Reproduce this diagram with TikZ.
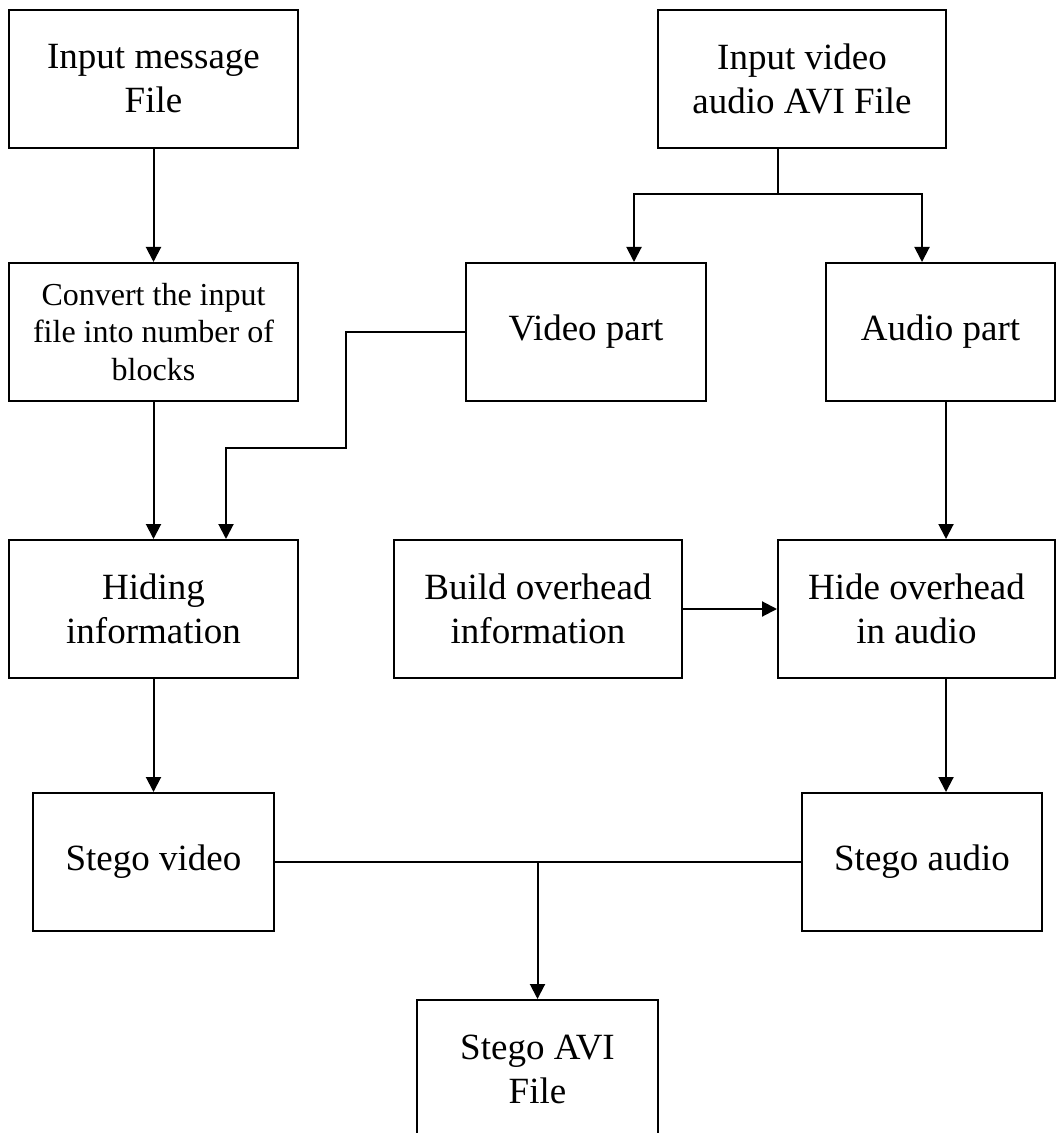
\documentclass[tikz,border=0pt]{standalone}
\usepackage{fontspec}
\setmainfont{Liberation Serif}
\usetikzlibrary{arrows.meta}

\begin{document}
\begin{tikzpicture}[x=0.5pt,y=-0.5pt]


% GLOBAL SETTINGS
\newcommand{\boxfont}{\fontsize{18.5}{22}\selectfont}
\newcommand{\convfont}{\fontsize{16}{18.75}\selectfont}
\tikzset{
  blk/.style={draw, line width=1pt, align=center, inner sep=0pt,
    minimum height=69pt, font=\boxfont},
  arr/.style={-{Triangle[length=7.5pt,width=7.5pt]}, line width=1pt},
  wire/.style={line width=1pt}
}
\useasboundingbox (0,0) rectangle (1057,1133);

% LEFT COLUMN
\node[blk, minimum width=144.5pt] (msg) at (153.5,79) {Input message\\File};
\node[blk, minimum width=144.5pt, font=\convfont] (conv) at (153.5,332) {Convert the input\\file into number of\\blocks};
\node[blk, minimum width=144.5pt] (hiding) at (153.5,609) {Hiding\\information};
\node[blk, minimum width=120.5pt] (svid) at (153.5,862) {Stego video};

% RIGHT SIDE
\node[blk, minimum width=144pt] (avi) at (802,79) {Input video\\audio AVI File};
\node[blk, minimum width=120pt] (vid) at (586,332) {Video part};
\node[blk, minimum width=114.5pt] (aud) at (940.5,332) {Audio part};
\node[blk, minimum width=144pt] (build) at (538,609) {Build overhead\\information};
\node[blk, minimum width=138.5pt] (hide) at (916.5,609) {Hide overhead\\in audio};
\node[blk, minimum width=120pt] (saud) at (922,862) {Stego audio};

% OUTPUT
\node[blk, minimum width=120.5pt] (savi) at (537.5,1069) {Stego AVI\\File};

% helper coordinates
\coordinate (fork) at (778,194);
\coordinate (vidIn) at (634,194);
\coordinate (audIn) at (922,194);
\coordinate (bendA) at (346,448);
\coordinate (bendB) at (226,448);
\coordinate (audOut) at (946,0);

% EDGES
\draw[arr] (msg) -- (conv);
\draw[arr] (conv) -- (hiding);
\draw[arr] (hiding) -- (svid);
%
\draw[wire] (fork |- avi.south) -- (fork);
\draw[arr] (fork) -- (vidIn) -- (vidIn |- vid.north);
\draw[arr] (fork) -- (audIn) -- (audIn |- aud.north);
\draw[arr] (vid.west) -| (bendA) -- (bendB) -- (bendB |- hiding.north);
%
\draw[arr] (audOut |- aud.south) -- (audOut |- hide.north);
\draw[arr] (build) -- (hide);
\draw[arr] (audOut |- hide.south) -- (audOut |- saud.north);
%
\draw[wire] (svid) -- (saud);
\draw[arr] (savi.north |- svid.east) -- (savi.north);

\end{tikzpicture}
\end{document}
